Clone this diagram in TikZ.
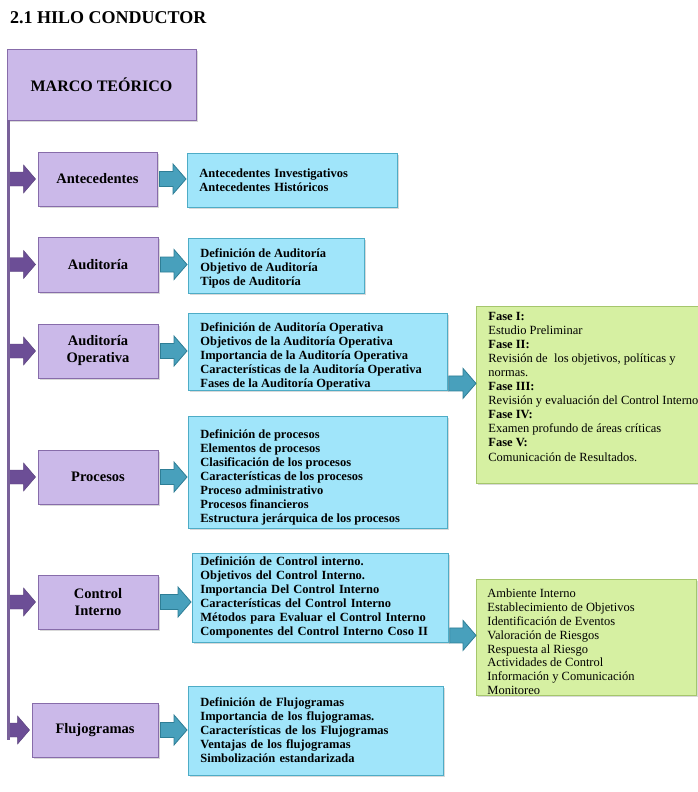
\documentclass[tikz,border=0pt]{standalone}
\usepackage{fontspec}
\setmainfont{Liberation Serif}
\usetikzlibrary{calc,shadows}

\definecolor{lila}{RGB}{203,185,233}
\definecolor{lilaborde}{RGB}{135,108,170}
\definecolor{morado}{RGB}{108,78,150}
\definecolor{celeste}{RGB}{160,229,250}
\definecolor{celesteborde}{RGB}{78,172,198}
\definecolor{turquesa}{RGB}{72,160,188}
\definecolor{turquesaborde}{RGB}{46,126,150}
\definecolor{verde}{RGB}{214,240,162}
\definecolor{verdeborde}{RGB}{165,198,108}

% flecha de bloque: estilo, desde, hasta, medio grosor, largo de la punta
\newcommand{\flecha}[5]{%
  \path[#1] let \p1=(#2), \p2=(#3) in
    (\x1,\y1+#4) -- (\x2-#5,\y1+#4) -- (\x2-#5,\y1+2*#4) -- (\x2,\y1)
    -- (\x2-#5,\y1-2*#4) -- (\x2-#5,\y1-#4) -- (\x1,\y1-#4) -- cycle;}
% bloque de texto desplazado: subida, ancho, texto
\newcommand{\bloque}[3]{\raisebox{#1}[\height][\depth]{\parbox{#2}{\raggedright #3}}}

\tikzset{
  sombra/.style={drop shadow={shadow xshift=1.5pt, shadow yshift=-2pt, opacity=0.3}},
  tema/.style={draw=lilaborde, fill=lila, line width=0.8pt, sombra, align=center,
    minimum width=120pt, minimum height=54pt,
    font=\fontsize{14.5}{17}\selectfont\bfseries},
  lista/.style={draw=celesteborde, fill=celeste, line width=0.8pt, sombra, anchor=west,
    align=left, inner xsep=12pt, font=\fontsize{12.5}{14}\selectfont\bfseries},
  detalle/.style={draw=verdeborde, fill=verde, line width=0.8pt, sombra, anchor=west,
    inner xsep=12pt, font=\fontsize{12.5}{14.1}\selectfont},
  flechamorada/.style={fill=morado, draw=morado!80!black, line width=0.4pt},
  flechaazul/.style={fill=turquesa, draw=turquesaborde, line width=0.8pt},
  tronco/.style={draw=lilaborde!90!black, line width=3pt}
}

\begin{document}
\begin{tikzpicture}[x=1pt, y=-1pt]
  \useasboundingbox (0,0) rectangle (697,792);

  \node[anchor=base west, inner sep=0pt, font=\fontsize{18}{20}\selectfont\bfseries]
    (titulo) at (10,24) {2.1 HILO CONDUCTOR};

  \node[tema, minimum width=189pt, minimum height=71pt,
    font=\fontsize{16}{19}\selectfont\bfseries] (marco) at (101.5,84.5) {MARCO TEÓRICO};

  % temas
  \node[tema, minimum width=119pt] (ante) at (97.5,179) {Antecedentes};
  \node[tema, minimum height=55pt] (audit) at (98,264.5) {Auditoría};
  \node[tema] (audop) at (98,351) {Auditoría\\Operativa};
  \node[tema] (proc) at (98,477) {Procesos};
  \node[tema] (ctrl) at (98,602) {Control\\Interno};
  \node[tema, minimum width=126pt] (fluj) at (95,730) {Flujogramas};

  % listas
  \node[lista, text width=186pt, minimum height=54pt] (ante-l) at (187,180)
    {Antecedentes Investigativos\\Antecedentes Históricos};
  \node[lista, minimum height=55pt] (audit-l) at (188,265.5)
    {\bloque{-3pt}{152pt}{Definición de Auditoría\\Objetivo de Auditoría\\Tipos de Auditoría}};
  \node[lista, minimum height=77pt] (audop-l) at (188,351.5)
    {\bloque{-5pt}{235pt}{Definición de Auditoría Operativa\\Objetivos de la Auditoría Operativa\\
     Importancia de la Auditoría Operativa\\Características de la Auditoría Operativa\\
     Fases de la Auditoría Operativa}};
  \node[lista, minimum height=112pt] (proc-l) at (188,472)
    {\bloque{-5pt}{235pt}{Definición de procesos\\Elementos de procesos\\Clasificación de los procesos\\
     Características de los procesos\\Proceso administrativo\\Procesos financieros\\
     Estructura jerárquica de los procesos}};
  \node[lista, inner xsep=8pt, text width=240pt, minimum height=89pt] (ctrl-l) at (192,597.5)
    {Definición de Control interno.\\Objetivos del Control Interno.\\
     Importancia Del Control Interno\\Características del Control Interno\\
     Métodos para Evaluar el Control Interno\\Componentes del Control Interno Coso II};
  \node[lista, text width=231pt, minimum height=89pt] (fluj-l) at (188,730.5)
    {Definición de Flujogramas\\Importancia de los flujogramas.\\
     Características de los Flujogramas\\Ventajas de los flujogramas\\
     Simbolización estandarizada};

  % detalles
  \node[detalle, minimum height=177pt] (fases) at (476,394.5)
    {\bloque{8pt}{236pt}{\textbf{Fase I:}\\Estudio Preliminar\\\textbf{Fase II:}\\
     Revisión de\ \ los objetivos, políticas y\\normas.\\\textbf{Fase III:}\\
     Revisión y evaluación del Control Interno\\\textbf{Fase IV:}\\
     Examen profundo de áreas críticas\\\textbf{Fase V:}\\Comunicación de Resultados.}};
  \node[detalle, inner xsep=11pt, minimum height=116pt,
    font=\fontsize{12.5}{13.8}\selectfont] (coso) at (476,637)
    {\bloque{-5pt}{198pt}{Ambiente Interno\\Establecimiento de Objetivos\\Identificación de Eventos\\
     Valoración de Riesgos\\Respuesta al Riesgo\\Actividades de Control\\
     Información y Comunicación\\Monitoreo}};

  % tronco y flechas moradas
  \coordinate (tronco) at (8.5,120);
  \coordinate (troncofin) at (8.5,740);
  \foreach \t in {ante, audit, audop, proc, ctrl, fluj}
    \flecha{flechamorada}{tronco |- \t.west}{$(\t.west)+(-2,0)$}{7pt}{12pt};
  \draw[tronco] (tronco) -- (troncofin);

  % flechas azules
  \foreach \t in {ante, audit, audop, proc, ctrl, fluj}
    \flecha{flechaazul}{$(\t.east)+(2,0)$}{$(\t-l.west)+(-1,0)$}{7.5pt}{13pt};
  \coordinate (s1) at ($(audop-l.south east)+(1,-7)$);
  \coordinate (s2) at ($(ctrl-l.south east)+(1,-7)$);
  \flecha{flechaazul}{s1}{fases.west |- s1}{7.5pt}{13pt};
  \flecha{flechaazul}{s2}{coso.west |- s2}{7.5pt}{13pt};
\end{tikzpicture}
\end{document}
